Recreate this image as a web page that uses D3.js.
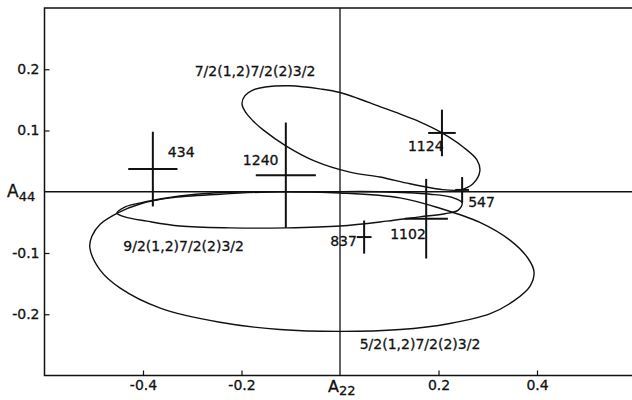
<!DOCTYPE html>
<html><head><meta charset="utf-8">
<script src="https://cdn.jsdelivr.net/npm/d3@7"></script>
<style>
html,body{margin:0;padding:0;background:#fff;}
svg text{font-family:"DejaVu Sans",sans-serif;fill:#111;stroke:#111;stroke-width:0.3px;}
</style></head>
<body><svg id="c" width="632" height="400"></svg>
<script>
// ---- data ----
const xTicks = [-0.4, -0.2, 0.2, 0.4];
const xTickLabels = ["-0.4", "-0.2", "0.2", "0.4"];
const yTicks = [0.2, 0.1, -0.1, -0.2];
const yTickLabels = ["0.2", "0.1", "-0.1", "-0.2"];

const pointLabels = ["434", "1240", "1124", "547", "1102", "837"];
const pointX = [-0.380, -0.110, 0.207, 0.248, 0.175, 0.049];
const pointY = [0.037, 0.027, 0.096, 0.003, -0.044, -0.074];
const pointXErr = [0.050, 0.061, 0.028, 0.014, 0.044, 0.015];
const pointYErr = [0.061, 0.086, 0.038, 0.021, 0.065, 0.027];

const curveNames = ["7/2(1,2)7/2(2)3/2", "9/2(1,2)7/2(2)3/2", "5/2(1,2)7/2(2)3/2"];
const curve1X = [-0.199,-0.193,-0.177,-0.152,-0.102,-0.041,0,0.081,0.162,0.207,0.250,0.278,0.284,0.270,0.244,0.203,0.142,0.081,0.020,-0.051,-0.110,-0.156,-0.177,-0.191];
const curve1Y = [0.1435,0.157,0.166,0.171,0.173,0.168,0.162,0.139,0.114,0.096,0.073,0.052,0.034,0.013,0.003,0.004,0.013,0.024,0.032,0.050,0.075,0.101,0.116,0.129];
const curve2X = [-0.453,-0.437,-0.392,-0.325,-0.258,-0.162,-0.041,0.081,0.183,0.227,0.248,0.240,0.213,0.162,0.095,0,-0.108,-0.223,-0.325,-0.392,-0.437];
const curve2Y = [-0.035,-0.025,-0.016,-0.007,-0.002,0.000,0.000,0.000,-0.004,-0.009,-0.018,-0.030,-0.036,-0.041,-0.048,-0.056,-0.059,-0.059,-0.056,-0.048,-0.041];
const curve3X = [-0.508,-0.504,-0.487,-0.450,-0.406,-0.345,-0.244,-0.122,0,0.122,0.203,0.284,0.345,0.382,0.394,0.386,0.355,0.305,0.223,0.122,0,-0.122,-0.244,-0.365,-0.447,-0.487];
const curve3Y = [-0.091,-0.073,-0.053,-0.034,-0.020,-0.010,-0.004,0.000,-0.002,-0.010,-0.027,-0.050,-0.079,-0.109,-0.131,-0.154,-0.177,-0.199,-0.215,-0.225,-0.228,-0.225,-0.213,-0.190,-0.157,-0.128];

// ---- drawing ----
const svg = d3.select("#c");
const x = d3.scaleLinear().domain([-0.6, 0.6]).range([44.5, 635.5]);
const y = d3.scaleLinear().domain([-0.3, 0.3]).range([375.5, 8]);

const ink = "#111";

// frame
svg.append("path")
  .attr("d", `M${x(0.6)+2},${y(0.3)} H${x(-0.6)} V${y(-0.3)} H${x(0.6)+2}`)
  .attr("fill", "none").attr("stroke", ink).attr("stroke-width", 1.5);

// zero lines
svg.append("line").attr("x1", x(-0.6)).attr("x2", 632).attr("y1", y(0)).attr("y2", y(0))
  .attr("stroke", ink).attr("stroke-width", 1.3);
svg.append("line").attr("x1", x(0)).attr("x2", x(0)).attr("y1", y(0.3)).attr("y2", y(-0.3))
  .attr("stroke", ink).attr("stroke-width", 1.3);

// axes with inward ticks
const xAxis = d3.axisBottom(x).tickValues(xTicks).tickSize(-5).tickPadding(5)
  .tickFormat((d, i) => xTickLabels[i]);
const gx = svg.append("g").attr("transform", `translate(0,${y(-0.3)})`).call(xAxis);
gx.select(".domain").remove();
gx.selectAll("line").attr("stroke", ink).attr("stroke-width", 1.2);
gx.selectAll("text").attr("font-size", 14).attr("fill", ink);

const yAxis = d3.axisLeft(y).tickValues(yTicks).tickSize(-5).tickPadding(5)
  .tickFormat((d, i) => yTickLabels[i]);
const gy = svg.append("g").attr("transform", `translate(${x(-0.6)},0)`).call(yAxis);
gy.select(".domain").remove();
gy.selectAll("line").attr("stroke", ink).attr("stroke-width", 1.2);
gy.selectAll("text").attr("font-size", 14).attr("fill", ink);

// axis titles
const t22 = svg.append("text").attr("x", x(0) - 12).attr("y", 392).attr("font-size", 16);
t22.append("tspan").text("A");
t22.append("tspan").attr("dy", 3).attr("font-size", 13).text("22");
const t44 = svg.append("text").attr("x", 7).attr("y", 197).attr("font-size", 17);
t44.append("tspan").text("A");
t44.append("tspan").attr("dy", 4).attr("font-size", 13).text("44");

// curves
const curves = [
  d3.zip(curve1X, curve1Y),
  d3.zip(curve2X, curve2Y),
  d3.zip(curve3X, curve3Y)
];
const line = d3.line().x(d => x(d[0])).y(d => y(d[1])).curve(d3.curveCatmullRomClosed.alpha(0.5));
svg.selectAll("path.curve").data(curves).enter().append("path")
  .attr("class", "curve").attr("d", line)
  .attr("fill", "none").attr("stroke", ink).attr("stroke-width", 1.4);

// curve labels
const curveLabelX = [-0.295, -0.44, 0.04];
const curveLabelY = [0.189, -0.096, -0.257];
svg.selectAll("text.cl").data(curveNames).enter().append("text")
  .attr("class", "cl")
  .attr("x", (d, i) => x(curveLabelX[i])).attr("y", (d, i) => y(curveLabelY[i]))
  .attr("font-size", 14).text(d => d);

// error crosses
const pts = pointLabels.map((l, i) => ({l, x: pointX[i], y: pointY[i], ex: pointXErr[i], ey: pointYErr[i]}));
const g = svg.append("g").attr("stroke", ink).attr("stroke-width", 2);
g.selectAll("line.h").data(pts).enter().append("line")
  .attr("x1", d => x(d.x - d.ex)).attr("x2", d => x(d.x + d.ex))
  .attr("y1", d => y(d.y)).attr("y2", d => y(d.y));
g.selectAll("line.v").data(pts).enter().append("line")
  .attr("x1", d => x(d.x)).attr("x2", d => x(d.x))
  .attr("y1", d => y(d.y + d.ey)).attr("y2", d => y(d.y - d.ey));

// point labels (offsets in px)
const labDX = [15, -43, -34, 6, -36, -34];
const labDY = [-12, -10, 18, 17, 20, 9];
svg.selectAll("text.pl").data(pts).enter().append("text")
  .attr("class", "pl")
  .attr("x", (d, i) => x(d.x) + labDX[i]).attr("y", (d, i) => y(d.y) + labDY[i])
  .attr("font-size", 14).text(d => d.l);
</script></body></html>
